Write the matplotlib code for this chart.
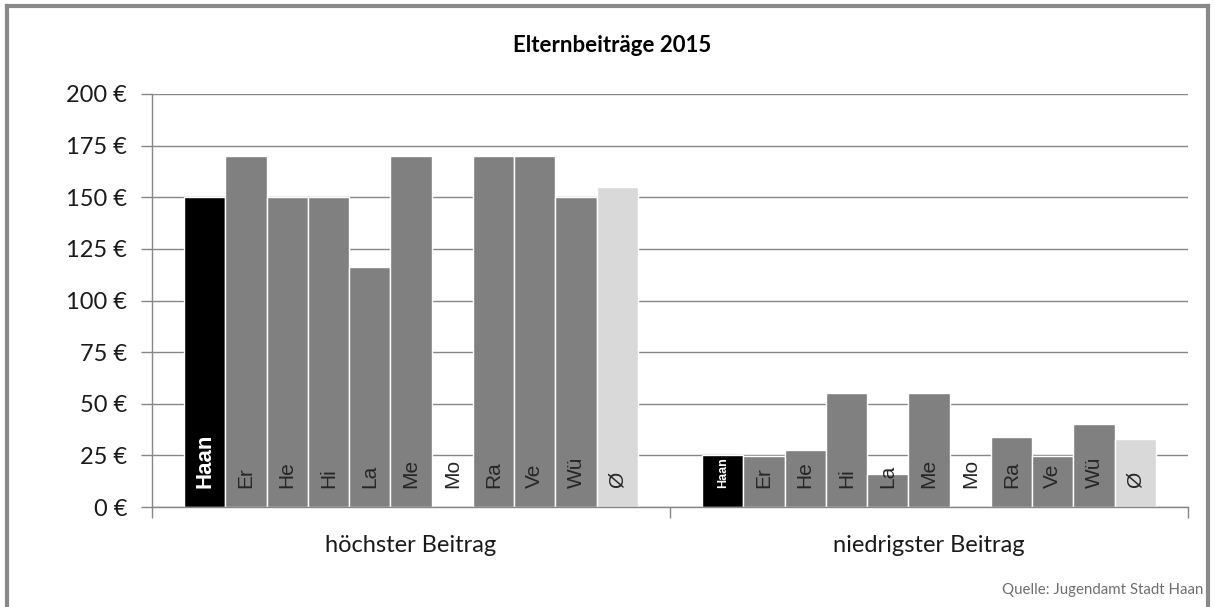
import matplotlib.pyplot as plt
import numpy as np
from matplotlib.lines import Line2D

# data
groups = ['höchster Beitrag', 'niedrigster Beitrag']
towns = ['Haan', 'Er', 'He', 'Hi', 'La', 'Me', 'Mo', 'Ra', 'Ve', 'Wü', 'Ø']
hoechst = [150, 170, 150, 150, 116, 170, np.nan, 170, 170, 150, 155]
niedrigst = [25, 24.5, 27.5, 55, 16, 55, np.nan, 34, 24.5, 40, 33]
yticks = [0, 25, 50, 75, 100, 125, 150, 175, 200]

colors = ['#000000'] + ['#808080'] * 9 + ['#d9d9d9']

plt.rcParams['font.family'] = ['Lato', 'DejaVu Sans']

fig = plt.figure(figsize=(12.15, 6.07), dpi=100)
ax = fig.add_axes([152 / 1215, 1 - 507 / 607, (1188 - 152) / 1215, (507 - 94) / 607])

n = len(towns)
group_w = 0.876
w = group_w / n
for gi, vals in enumerate([hoechst, niedrigst]):
    xs = gi - group_w / 2 + w / 2 + np.arange(n) * w
    ax.bar(xs, vals, width=w, color=colors, edgecolor='white', linewidth=1, zorder=2)
    for i, (x, t) in enumerate(zip(xs, towns)):
        if t == 'Haan':
            fs = 16 if gi == 0 else 9
            ax.annotate(t, (x, 0), xytext=(0, 14), textcoords='offset points',
                        rotation=90, ha='center', va='bottom', color='white',
                        fontsize=fs, fontweight='bold', family='Liberation Sans', zorder=3)
        else:
            ax.annotate(t, (x, 0), xytext=(0, 14), textcoords='offset points',
                        rotation=90, ha='center', va='bottom', color='#262626',
                        fontsize=15, family=['Liberation Sans', 'DejaVu Sans'], zorder=3)

ax.set_xlim(-0.5, 1.5)
ax.set_ylim(0, 200)
ax.set_yticks(yticks)
ax.set_yticklabels([f'{v} €' for v in yticks], fontsize=17, color='#1a1a1a')
ax.set_xticks([0, 1])
ax.set_xticklabels(groups, fontsize=17, color='#1a1a1a')
ax.tick_params(axis='x', which='major', length=0, pad=20)
ax.set_xticks([-0.5, 0.5, 1.5], minor=True)
ax.tick_params(axis='x', which='minor', length=8, color='#868686', width=1)
ax.tick_params(axis='y', length=8, color='#868686', width=1, pad=10)

ax.grid(axis='y', color='#868686', linewidth=1, zorder=0)
ax.set_axisbelow(True)
for s in ['top', 'right']:
    ax.spines[s].set_visible(False)
for s in ['left', 'bottom']:
    ax.spines[s].set_color('#868686')
    ax.spines[s].set_linewidth(1)

fig.text(612 / 1215, 1 - 45 / 607, 'Elternbeiträge 2015', ha='center', va='center',
         fontsize=16, fontweight='bold', color='#000000')
fig.text(1203 / 1215, 1 - 590 / 607, 'Quelle: Jugendamt Stadt Haan', ha='right', va='center',
         fontsize=10.8, color='#6e6e6e')

# outer frame
fc = '#898989'
fig.add_artist(Line2D([7 / 1215, 7 / 1215], [0, 1 - 6 / 607], color=fc, lw=3, transform=fig.transFigure))
fig.add_artist(Line2D([7 / 1215, 1208 / 1215], [1 - 6 / 607, 1 - 6 / 607], color=fc, lw=3, transform=fig.transFigure))
fig.add_artist(Line2D([1208 / 1215, 1208 / 1215], [0, 1 - 6 / 607], color=fc, lw=3, transform=fig.transFigure))

fig.savefig('out.png', dpi=100)
